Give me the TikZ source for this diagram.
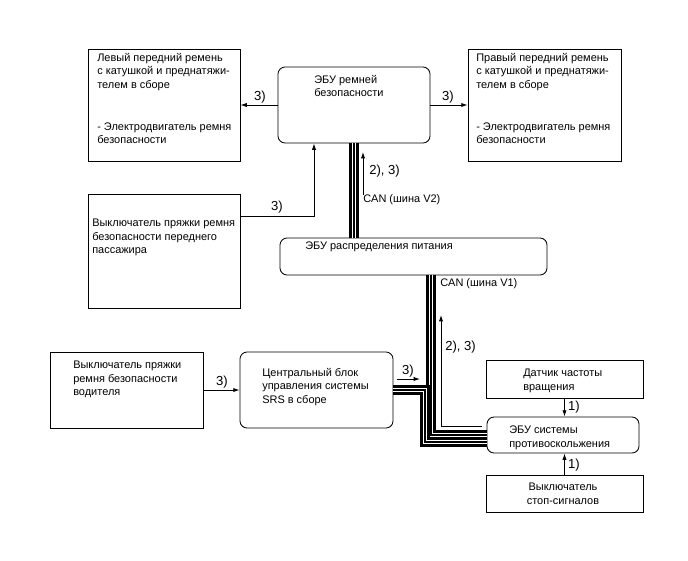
\documentclass[tikz,border=0pt]{standalone}
\usepackage{fontspec}
\setmainfont{Liberation Sans}
\usetikzlibrary{arrows.meta,positioning,calc}
\newlength{\px}\setlength{\px}{0.025cm}
\tikzstyle{box} = [draw, line width=0.6pt, inner sep=0pt]
\tikzstyle{ecubox} = [box, rounded corners=5pt]
\tikzstyle{txt} = [anchor=north west, inner sep=0pt, align=left, font=\fontsize{7.8}{9.6}\selectfont]
\tikzstyle{lbl} = [inner sep=0pt, font=\fontsize{9.3}{10}\selectfont]
\tikzstyle{arrow} = [line width=0.6pt,-{Latex[length=4.5pt,width=3pt]}]
\newcommand{\canbus}[1]{%
  \draw[line width=6.6pt] #1;
  \draw[line width=3.4pt, white] #1;
  \draw[line width=1pt] #1;}

\begin{document}
\begin{tikzpicture}[x=0.025cm, y=-0.025cm]
\useasboundingbox (0,0) rectangle (688,560);
% blocks
\node[box, minimum width=152\px, minimum height=112\px] (lbelt) at (164,105) {};
\node[ecubox, minimum width=152\px, minimum height=76\px] (ecu) at (354,105) {};
\node[box, minimum width=153\px, minimum height=112\px] (rbelt) at (544.5,105) {};
\node[box, minimum width=152\px, minimum height=114\px] (pass) at (164,251) {};
\node[ecubox, minimum width=267\px, minimum height=37\px] (pd) at (413.5,256.5) {};
\node[box, minimum width=153\px, minimum height=76\px] (drv) at (126.5,390) {};
\node[ecubox, minimum width=153\px, minimum height=76\px] (srs) at (316.5,390) {};
\node[box, minimum width=157\px, minimum height=38\px] (speed) at (564.5,379) {};
\node[ecubox, minimum width=152\px, minimum height=36\px] (abs) at (563,435) {};
\node[box, minimum width=157\px, minimum height=37\px] (brake) at (564.5,493.5) {};
% texts
\node[txt] (lbeltTxt) at (97,53) {Левый передний ремень\\с катушкой и преднатяжи-\\телем в сборе\\[20pt] - Электродвигатель ремня\\безопасности};
\node[txt] (rbeltTxt) at (476,53) {Правый передний ремень\\с катушкой и преднатяжи-\\телем в сборе\\[20pt]- Электродвигатель ремня\\безопасности};
\node[txt] (ecuTxt) at (314,75) {ЭБУ ремней\\безопасности};
\node[txt] (passTxt) at (92,219) {Выключатель пряжки ремня\\безопасности переднего\\пассажира};
\node[txt] (pdTxt) at (305,242) {ЭБУ распределения питания};
\node[txt] (drvTxt) at (73,361) {Выключатель пряжки\\ремня безопасности\\водителя};
\node[txt] (srsTxt) at (262,368) {Центральный блок\\управления системы\\SRS в сборе};
\node[txt] (speedTxt) at (523,369) {Датчик частоты\\вращения};
\node[txt] (absTxt) at (509,426) {ЭБУ системы\\противоскольжения};
\node[txt, anchor=north, align=center] (brakeTxt) at (563,483) {Выключатель\\стоп-сигналов};
% CAN lines
\canbus{(ecu.south) -- (ecu.south |- pd.north)}
\canbus{(431,0 |- pd.south) -- (431,0 |- abs.west) -- (abs.west)}
\canbus{(srs.east) -- (425,0 |- srs.east) -- (425,442) -- (abs.west |- 0,442)}
% signals
\draw[arrow] (ecu.west) -- (ecu.west -| lbelt.east);
\draw[arrow] (ecu.east) -- (ecu.east -| rbelt.west);
\draw[arrow] (pass.east |- 0,216) -| (314,0 |- ecu.south);
\draw[arrow] (drv.east) -- (srs.west);
\draw[arrow] (speed.south) -- (speed.south |- abs.north);
\draw[arrow] (brake.north) -- (brake.north |- abs.south);
\coordinate (v2tail) at (363,195);
\coordinate (v2tip) at (363,152);
\draw[arrow] (v2tail) -- (v2tip);
\coordinate (v1tap) at (482,426);
\coordinate (v1tip) at (441,315);
\draw[arrow] (v1tap) -| (v1tip);
\coordinate (srsA) at (397,379);
\coordinate (srsB) at (420,379);
\draw[arrow] (srsA) -- (srsB);
% labels
\node[lbl] (l1) at (260,97) {3)};
\node[lbl] (l2) at (448,97) {3)};
\node[lbl] (l3) at (277,207) {3)};
\node[lbl, anchor=west] (l4) at (369,171) {2), 3)};
\node[txt, anchor=west] (canV2) at (363,200) {CAN (шина V2)};
\node[txt, anchor=west] (canV1) at (440,284) {CAN (шина V1)};
\node[lbl, anchor=west] (l5) at (445,347) {2), 3)};
\node[lbl] (l6) at (222,382) {3)};
\node[lbl] (l7) at (408,371) {3)};
\node[lbl] (l8) at (574,407) {1)};
\node[lbl] (l9) at (574,465) {1)};
\end{tikzpicture}
\end{document}
